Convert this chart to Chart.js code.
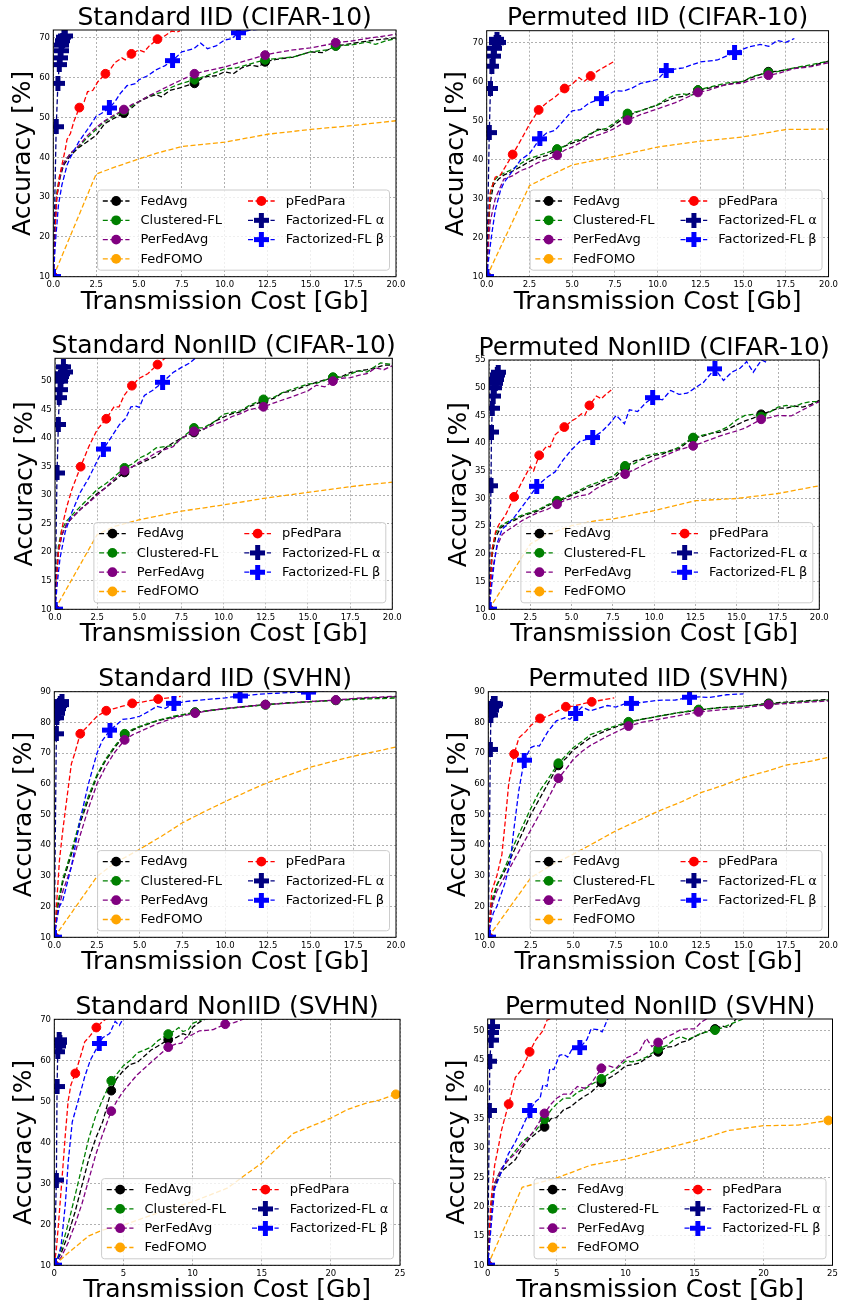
<!DOCTYPE html>
<html>
<head>
<meta charset="utf-8">
<script src="https://cdn.jsdelivr.net/npm/chart.js"></script>
<style>
  body { margin: 0; background: #fff; }
  #wrap { position: relative; width: 841px; height: 1309px; overflow: hidden; }
  #wrap canvas { position: absolute; }
</style>
</head>
<body>
<div id="wrap"></div>
<script>
const seriesNames = ['FedAvg', 'Clustered-FL', 'PerFedAvg', 'FedFOMO', 'pFedPara', 'Factorized-FL α', 'Factorized-FL β'];
const seriesColors = ['#000000', '#008000', '#800080', '#ffa500', '#ff0000', '#000080', '#0000ff'];

const titles = [
  'Standard IID (CIFAR-10)', 'Permuted IID (CIFAR-10)',
  'Standard NonIID (CIFAR-10)', 'Permuted NonIID (CIFAR-10)',
  'Standard IID (SVHN)', 'Permuted IID (SVHN)',
  'Standard NonIID (SVHN)', 'Permuted NonIID (SVHN)'
];

const xTicks20 = [0, 2.5, 5, 7.5, 10, 12.5, 15, 17.5, 20];
const xTicks25 = [0, 5, 10, 15, 20, 25];
const yTicks70 = [10, 20, 30, 40, 50, 60, 70];
const yTicks50 = [10, 15, 20, 25, 30, 35, 40, 45, 50];
const yTicks55 = [10, 15, 20, 25, 30, 35, 40, 45, 50, 55];
const yTicks90 = [10, 20, 30, 40, 50, 60, 70, 80, 90];
const xMaxes = [20, 20, 20, 20, 20, 20, 25, 25];
const yMaxes = [72, 73, 54, 55, 90, 90, 70, 52];

// where the markers sit (Gb)
const baseMarkX = [0, 4.12, 8.24, 12.36, 16.48];
const paraMarkX = [0, 1.52, 3.04, 4.56, 6.08];
const fomoMarkX = [0];
const fomoMarkXWide = [0, 24.7];
const betaMarkX = [
  [0, 3.27, 6.96, 10.8], [0, 3.11, 6.71, 10.5, 14.5],
  [0, 2.87, 6.38], [0, 2.89, 6.28, 9.91, 13.68],
  [0, 3.26, 7, 10.87, 14.87], [0, 2.11, 5.14, 8.41, 11.83],
  [0, 3.25], [0, 3.06, 6.68]
];

// ---- Standard IID (CIFAR-10)
const p1FedAvg = [[0,10],[0.1,22],[0.2,30],[0.4,35],[0.6,38],[1,40.5],[1.5,42.5],[2,44],[2.5,45.5],[3,48.5],[3.5,49.7],[4.12,51.1],[4.6,52.5],[5,54],[5.6,55.2],[6,55.8],[6.3,55.2],[6.8,56.8],[7.5,57.6],[8.24,58.6],[8.8,60.2],[9.5,60.5],[10,61.5],[10.5,61],[11,62.5],[11.5,63.2],[12,62.8],[12.36,64],[13,64.6],[14,65.2],[15,66.5],[15.7,66.3],[16.48,68],[17,68.3],[18,69],[19,69.6],[20,70]];
const p1Cluster = [[0,10],[0.1,24],[0.2,31],[0.4,36],[0.6,38.5],[1,41],[1.5,42.8],[2,45],[2.5,47],[3,49],[3.5,50.2],[4.12,51.8],[4.6,53],[5,54],[5.6,55.5],[6.3,56.3],[7,57.8],[7.5,58.6],[8.24,59.5],[9,60.6],[10,62.2],[10.7,62.5],[11.5,63.5],[12.36,64.5],[13,64.8],[14,65.2],[15,66.5],[16,67],[16.48,68],[17.5,68.3],[18.3,69],[18.8,68.4],[19.5,69.4],[20,69.8]];
const p1PerFed = [[0,10],[0.1,22],[0.2,30],[0.4,35.5],[0.6,38.5],[1,41],[1.5,43],[2,45.5],[2.5,47.5],[3,49.2],[3.5,50.5],[4.12,52],[4.6,53.3],[5,54],[5.6,55.5],[6.3,57],[7,58.5],[7.5,59.5],[8.24,61],[9,61.8],[10,62.7],[11,64],[12.36,65.7],[13,66.3],[14,67],[15,67.5],[16,68.3],[16.48,68.8],[17.5,69.3],[18.5,70],[19.5,70.6],[20,71]];
const p1Fomo = [[0,10],[2.5,35.8],[3.5,37.4],[5,39.6],[6,41],[7.5,42.7],[10,43.8],[12.5,45.8],[15,47],[17.5,48],[20,49.2]];
const p1Para = [[0,10],[0.1,22],[0.2,30],[0.35,35],[0.5,38],[0.7,42],[0.8,44.5],[1,46],[1.2,49],[1.52,52.5],[1.8,54],[2,56.5],[2.3,56.8],[2.6,59],[3.04,61],[3.3,62],[3.6,63.8],[4,65],[4.2,64.5],[4.56,66],[5,67],[5.3,66.5],[5.6,68],[6.08,69.7],[6.5,70.5],[6.9,71.7],[7.2,71.5],[7.4,71.8]];
const p1Alpha = [[0,10],[0.17,47.7],[0.27,58.6],[0.35,63.3],[0.4,65],[0.45,66.8],[0.5,68.2],[0.55,69.3],[0.62,70.2],[0.7,70.5]];
const p1Beta = [[0,10],[0.15,20],[0.3,28],[0.5,33],[0.8,38],[1,40],[1.5,44],[2,47],[2.5,50.3],[2.8,51],[3.27,52.4],[3.6,54],[3.9,56],[4.3,58],[4.8,58.5],[5,59.5],[5.5,60.5],[6,62],[6.5,63],[6.96,64.3],[7.5,66.5],[8.2,67.3],[8.6,68.7],[9,67.3],[9.5,68],[10,69.5],[10.4,69.8],[10.8,71.3],[11.5,72],[12.5,72.3],[13,72.5]];

// ---- Permuted IID (CIFAR-10)
const p2FedAvg = [[0,10],[0.1,22],[0.2,29],[0.4,33.5],[0.7,35],[1,36],[1.5,37],[2,38.2],[2.5,39.5],[3,40.5],[3.5,41],[4.12,42.5],[4.6,43.5],[5,44.2],[5.5,45],[6,46.2],[6.5,47.8],[7,47.5],[7.5,49],[8.24,51.2],[9,52.5],[10,54],[10.5,55],[11,55.8],[11.5,56.2],[12.36,57.8],[13,58.3],[14,59.2],[15,60],[15.5,61],[16.48,62.5],[17,62.6],[18,63.4],[19,64],[20,65.2]];
const p2Cluster = [[0,10],[0.1,24],[0.2,31],[0.4,34.5],[0.7,35.8],[1,36.5],[1.5,37.5],[2,39],[2.5,40.3],[3,41],[3.5,41.7],[4.12,42.7],[4.6,43.5],[5,44.8],[5.5,45.2],[6,46.5],[6.5,47.5],[7,48],[7.5,49.5],[8.24,51.8],[9,52.5],[10,54],[10.5,55.5],[11,56.5],[11.5,56.8],[12,56.5],[12.36,57.8],[13,58.5],[14,59.6],[15,60],[15.5,61.2],[16.48,62.3],[17,62.5],[18,63.5],[19,64.3],[20,65.2]];
const p2PerFed = [[0,10],[0.1,18],[0.2,24],[0.5,30],[0.8,33],[1,35],[1.5,35.8],[2,37.2],[2.5,38],[3,39.2],[3.5,40],[4.12,41.1],[4.6,42.5],[5,43.2],[6,45.5],[7,47],[7.5,48],[8.24,50.1],[9,51.5],[10,53],[11,54.5],[12.36,57.2],[13,57.8],[14,59.2],[15,59.6],[15.5,60.5],[16.48,61.6],[17,62],[18,63.3],[19,63.8],[20,64.8]];
const p2Fomo = [[0,10],[2.5,33.3],[3.5,35.5],[5,38.6],[7.5,40.8],[10,43.2],[12.5,44.7],[15,45.8],[17.5,47.7],[20,47.8]];
const p2Para = [[0,10],[0.1,24],[0.2,31.5],[0.5,35.5],[0.8,36],[1,37.5],[1.52,41.3],[2,45],[2.5,49],[3.04,52.7],[3.5,54.5],[4,56],[4.56,58.2],[5,59.3],[5.4,61],[5.7,60],[6.08,61.4],[6.5,62.7],[7,64],[7.4,65]];
const p2Alpha = [[0,10],[0.15,46.9],[0.22,58.2],[0.3,63.9],[0.38,66.5],[0.45,68.5],[0.55,69.9],[0.6,70.8],[0.7,70]];
const p2Beta = [[0,10],[0.15,16],[0.3,21],[0.5,27],[0.8,32],[1,34],[1.5,37],[2,40],[2.5,41.5],[3.11,45.3],[3.5,46.8],[4,47.5],[4.5,50],[5,52.5],[5.5,52.8],[6,54.5],[6.71,55.6],[7.5,57.6],[8,57.5],[8.5,58.3],[9,59.5],[10,60.5],[10.5,62.8],[11.5,63.5],[12.5,65],[13.5,65.5],[14.5,67.4],[15.3,68.8],[16,69.5],[16.5,69],[17,70.5],[17.5,70],[18,71]];

// ---- Standard NonIID (CIFAR-10)
const p3FedAvg = [[0,10],[0.1,16],[0.2,20],[0.4,23],[0.7,25],[1,26],[1.5,27.5],[2,28.8],[2.5,30.3],[3,31.3],[3.5,32.5],[4.12,34],[4.6,35],[5,35.5],[5.5,36.2],[6,36.8],[6.5,38.2],[7,39.2],[7.5,40],[8.24,41],[8.8,41.5],[9.5,43],[10,43.7],[10.5,44.3],[11,44.6],[11.5,45.5],[12.36,46.5],[13,47],[13.5,48],[14,48.2],[15,49.3],[15.5,49.8],[16.48,50.6],[17,50.8],[17.5,51.5],[18,51.8],[18.5,52],[19,52.3],[19.5,52.8],[20,52.8]];
const p3Cluster = [[0,10],[0.1,17],[0.2,21],[0.4,24],[0.7,25.5],[1,26.5],[1.5,28],[2,29.5],[2.5,31],[3,32],[3.5,33.2],[4.12,34.8],[4.6,35.5],[5,36.5],[5.5,37.2],[6,38.3],[6.5,38.5],[7,38.7],[7.5,40],[8.24,41.8],[8.8,41.8],[9.5,43],[10,44.2],[10.5,44.5],[11,44.8],[11.5,45.7],[12.36,46.8],[13,47.2],[13.5,48],[14,48.5],[15,49.5],[15.5,49.6],[16.48,50.7],[17,50.7],[17.5,51.2],[18,51.8],[18.5,51.6],[19.3,53.2],[20,52.9]];
const p3PerFed = [[0,10],[0.1,16],[0.2,20],[0.4,23],[0.7,25],[1,26],[1.5,27.5],[2,28.7],[2.5,30],[3,31.3],[3.5,32.8],[4.12,34.3],[4.6,35],[5,35.8],[5.5,36.5],[6,37.5],[6.5,38],[7,38.5],[7.5,40],[8.24,41.2],[9,41.8],[9.5,42.5],[10,43],[10.5,43.8],[11,44.3],[11.5,45],[12.36,45.5],[13,46.2],[14,47.2],[15,48.3],[15.5,49.3],[16,49],[16.48,50],[17,50.5],[17.5,50.6],[18,51],[18.5,51.3],[19,52.3],[19.5,52],[20,52.7]];
const p3Fomo = [[0,10],[2.5,23.1],[3.5,24.5],[5,25.7],[7.5,27.2],[10,28.3],[12.5,29.5],[15,30.5],[17.5,31.5],[20,32.3]];
const p3Para = [[0,10],[0.1,16],[0.2,20],[0.35,23],[0.5,25.5],[0.7,28],[1,31],[1.52,35],[2,38.5],[2.5,41.5],[3.04,43.4],[3.5,45.5],[3.8,45.5],[4.1,47.5],[4.56,49.2],[5,50.5],[5.5,51.3],[6.08,52.9],[6.6,54.2],[7.4,55.5]];
const p3Alpha = [[0,10],[0.12,33.9],[0.2,42.4],[0.25,47.1],[0.3,48.5],[0.35,50],[0.4,50.8],[0.45,51.3],[0.5,52.5],[0.6,51.6]];
const p3Beta = [[0,10],[0.15,15],[0.3,19],[0.6,23.5],[1,27],[1.5,30.5],[2,33],[2.5,36],[2.87,38.1],[3.3,40],[3.8,42.3],[4.2,43.5],[4.5,45.5],[4.8,45.6],[5,45.4],[5.3,47.5],[5.8,48.4],[6.38,49.8],[7,51.5],[7.5,52.4],[8,53.2],[8.5,54.5],[9,55.5]];

// ---- Permuted NonIID (CIFAR-10)
const p4FedAvg = [[0,10],[0.1,16],[0.2,20],[0.4,23],[0.7,24.7],[1,25.3],[1.5,26],[2,26.8],[2.5,27.3],[3,27.8],[3.5,28.6],[4.12,29.5],[4.6,30],[5,30.6],[5.5,31.2],[6,32],[6.5,32.4],[7,33.2],[7.5,33.5],[8.24,35.6],[8.8,36.8],[9.5,37.2],[10,37.8],[10.5,38],[11,38.7],[11.5,39],[12.36,40.9],[13,41.3],[13.5,41.8],[14,42],[14.5,42.6],[15,43.3],[15.5,44],[16,44.5],[16.48,45.2],[17,45.7],[17.5,46.3],[18,46.3],[18.5,46.7],[19,46.5],[19.5,47],[20,47.7]];
const p4Cluster = [[0,10],[0.1,17],[0.2,21],[0.4,23.7],[0.7,25],[1,25.6],[1.5,26.3],[2,27],[2.5,27.5],[3,28],[3.5,28.8],[4.12,29.6],[4.6,30.2],[5,30.8],[5.5,31.5],[6,32.3],[6.5,32.8],[7,33.5],[7.5,34],[8.24,35.9],[8.8,36.3],[9.5,37.7],[10,38],[10.5,38.3],[11,38.5],[11.5,39.3],[12.36,41],[13,41.5],[13.5,41.8],[14,42.3],[14.5,43],[15,44.2],[15.5,45],[16,45.2],[16.48,44.8],[17,45.6],[17.5,46.5],[18,46.8],[18.5,46.6],[19,47.2],[19.5,47.5],[20,47.5]];
const p4PerFed = [[0,10],[0.1,14],[0.2,17],[0.5,21.5],[0.8,23.5],[1,24],[1.5,25],[2,26],[2.5,26.8],[3,27.5],[3.5,28],[4.12,28.95],[4.6,29.7],[5,30],[5.5,30.5],[6,30.7],[6.5,31.8],[7,32.5],[7.5,33.2],[8.24,34.4],[9,35.5],[10,37],[10.5,37.5],[11,38.2],[11.5,38.8],[12.36,39.5],[13,40.2],[14,41.3],[15,42.2],[15.5,42.7],[16.48,44.3],[17,44.6],[17.5,45],[18.3,44.9],[19,46],[20,47.5]];
const p4Fomo = [[0,10],[2.5,21.8],[3.5,23.5],[5,25.1],[6.5,26],[7.5,26.3],[10,27.8],[12.5,29.6],[15,30],[17.5,30.9],[20,32.3]];
const p4Para = [[0,10],[0.1,16],[0.2,21],[0.4,24],[0.6,25.3],[1,27],[1.52,30.3],[2,33],[2.5,35.8],[2.7,35],[3.04,37.8],[3.5,39.5],[3.7,39.3],[4,41.5],[4.56,42.9],[5,44],[5.3,44.5],[5.6,45.3],[5.8,45],[6.08,46.8],[6.5,48.5],[6.8,48],[7,48.6],[7.4,49.6]];
const p4Alpha = [[0,10],[0.12,32.3],[0.15,42],[0.2,46.3],[0.25,48.5],[0.32,50],[0.38,50.8],[0.44,51.5],[0.5,52.3],[0.56,52.8]];
const p4Beta = [[0,10],[0.15,14],[0.3,18],[0.5,22],[0.8,24.5],[1,25],[1.5,26.5],[2,28.5],[2.5,30.5],[2.89,32.2],[3.5,33.8],[4,34.8],[4.5,37],[5,38.8],[5.5,40.3],[6.28,41],[6.8,42],[7.3,43.5],[7.7,45],[8.2,43.5],[8.5,46],[9,45.7],[9.5,47.3],[9.91,48.2],[10.5,47.8],[11,49.5],[11.5,48.8],[12,49],[12.5,50],[13,51],[13.68,53.4],[14.2,51.3],[14.7,52.8],[15.2,53.5],[15.6,54.7],[16,52.8],[16.5,55],[16.8,54.6]];

// ---- Standard IID (SVHN)
const p5FedAvg = [[0,10],[0.1,15],[0.2,20],[0.5,28],[1,37],[1.5,47],[2,55],[2.5,62.5],[3,67.5],[3.5,71.5],[4.12,76],[4.6,77.5],[5,78.5],[6,80.5],[7,81.8],[8.24,83.3],[9,83.8],[10,84.5],[11,85.1],[12.36,85.8],[13.5,86.3],[15,86.8],[16.48,87.2],[18,87.8],[20,88.3]];
const p5Cluster = [[0,10],[0.1,16],[0.2,21],[0.5,29],[1,38],[1.5,48],[2,56],[2.5,63],[3,68],[3.5,72],[4.12,76.3],[4.6,77.8],[5,78.7],[6,80.6],[7,82],[8.24,83.3],[9,83.8],[10,84.4],[11,85],[12.36,85.7],[13.5,86.2],[15,86.7],[16.48,87.2],[18,87.6],[20,87.9]];
const p5PerFed = [[0,10],[0.1,14],[0.2,18],[0.5,25],[1,33],[1.5,43],[2,52],[2.5,60],[3,65.5],[3.5,70],[4.12,74.3],[4.6,76],[5,77],[6,79.5],[7,81.5],[8.24,83],[9,83.8],[10,84.5],[11,85.1],[12.36,85.8],[13.5,86.2],[15,86.8],[16.48,87.3],[18,88],[20,88.5]];
const p5Fomo = [[0,10],[2.5,29.8],[3.5,34],[5,38.7],[6.3,43],[7.5,47.3],[8.8,51],[10,54.2],[11.3,57.5],[12.5,60.4],[13.8,63],[15,65.4],[16.3,67.3],[17.5,69],[18.8,70.5],[20,72]];
const p5Para = [[0,10],[0.1,18],[0.3,35],[0.5,45],[0.8,58],[1,66.5],[1.2,70],[1.52,76.3],[2,79],[2.5,82],[3.04,83.8],[3.5,84.5],[4,85.3],[4.56,86.2],[5,86.5],[5.5,87],[6.08,87.6],[6.7,88],[7.4,88.5]];
const p5Alpha = [[0,10],[0.12,76.3],[0.15,81.5],[0.2,83],[0.25,84.5],[0.3,85.5],[0.35,86.3],[0.4,85.8],[0.45,86.8]];
const p5Beta = [[0,10],[0.15,16],[0.3,20],[0.5,22],[1,33],[1.5,48],[2,60],[2.5,70],[2.8,74],[3.26,77.5],[3.6,79],[4,81],[4.5,81.3],[5,82],[5.5,83.5],[6,85.2],[6.5,84.6],[7,86.2],[8,87],[9,87.5],[10,88],[10.87,88.6],[12,89.2],[13,89.5],[14,89.8],[14.87,89.9],[16,90.2]];

// ---- Permuted IID (SVHN)
const p6FedAvg = [[0,10],[0.1,16],[0.2,20],[0.5,27],[1,32],[1.5,38],[2,44],[2.5,50],[3,55],[3.5,60],[4.12,66],[4.6,68.5],[5,71],[5.5,73],[6,75],[7,77.5],[8.24,80],[9,81],[10,82],[11,83],[12.36,84],[13.5,84.8],[15,85.3],[16.48,86.2],[18,86.8],[20,87.5]];
const p6Cluster = [[0,10],[0.1,17],[0.2,22],[0.5,27],[1,33],[1.5,40],[2,46],[2.5,52],[3,57.5],[3.5,61.5],[4.12,66.7],[4.6,69.5],[5,71.8],[5.5,73.8],[6,76],[7,78],[8.24,80.2],[9,81],[10,82],[11,83],[12.36,84.2],[13.5,84.7],[15,85.3],[16.48,86],[18,86.6],[20,87.3]];
const p6PerFed = [[0,10],[0.1,15],[0.2,20],[0.5,25],[1,30],[1.5,35],[2,40],[2.5,45],[3,50],[3.5,55],[4.12,61.8],[4.6,65],[5,68],[5.5,70.5],[6,72.5],[7,75.5],[8.24,78.8],[9,80],[10,81],[11,82],[12.36,83.4],[13.5,84],[15,84.8],[16.48,85.8],[18,86.3],[20,87]];
const p6Fomo = [[0,10],[2.5,29.4],[3.7,33.5],[5,37.1],[6.3,41],[7.5,44.7],[8.8,48],[10,51.1],[11.3,54],[12.5,57.1],[13.8,59.5],[15,62],[16.3,64],[17.5,66.1],[18.8,67.2],[20,68.6]];
const p6Para = [[0,10],[0.1,17],[0.2,25],[0.5,30],[0.8,37],[1,48],[1.2,60],[1.52,69.7],[1.8,75],[2.2,77],[2.5,79],[3.04,81.3],[3.5,82],[4,83.5],[4.56,85.1],[5,85.3],[5.5,86],[6.08,86.7],[6.7,87.3],[7.4,88]];
const p6Alpha = [[0,10],[0.12,71.2],[0.15,82.4],[0.2,84],[0.25,85.3],[0.3,86.2],[0.35,85.5],[0.4,86]];
const p6Beta = [[0,10],[0.15,15],[0.3,18],[0.5,20],[1,28],[1.3,35],[1.5,45],[1.8,58],[2.11,67.7],[2.5,71.8],[2.8,72.5],[3,72.3],[3.5,77],[4,80.5],[4.5,81.5],[4.8,81],[5.14,82.9],[5.5,85],[6,83.8],[6.5,84.6],[7,85.5],[7.5,85],[8,86],[8.41,86.2],[9,86.5],[10,87.2],[11,87.3],[11.83,88.2],[12.5,88.3],[13,88.1],[14,89],[15,89.3]];

// ---- Standard NonIID (SVHN)
const p7FedAvg = [[0,10],[0.5,13],[1,17.5],[1.5,23],[2,29.5],[2.5,36],[3,41],[3.5,45],[4.12,52.6],[4.5,55.5],[5,57.5],[5.5,59],[6,59.5],[6.5,61],[7,62.5],[7.5,63.5],[8.24,65],[8.8,65.5],[9.3,66.5],[9.7,66],[10,68],[10.5,69.3],[11,70.2]];
const p7Cluster = [[0,10],[0.5,14],[1,20],[1.5,27],[2,34],[2.5,41],[3,46.5],[3.5,50.5],[4.12,55],[4.6,57],[5,58.7],[5.5,60],[6,61.8],[6.5,62.5],[7,63.2],[7.5,64.8],[8.24,66.4],[8.7,67.2],[9,68],[9.3,67],[9.7,67.5],[10,69],[10.5,69.7],[11,70.4]];
const p7PerFed = [[0,10],[0.5,12],[1,15.5],[1.5,20],[2,25],[2.5,31],[3,37],[3.5,42],[4.12,47.6],[4.6,50.5],[5,52.5],[5.5,54.5],[6,56.5],[6.5,58],[7,59.5],[7.5,61],[8.24,63.2],[8.8,64],[9.2,64.2],[9.5,65.5],[10,66.3],[10.5,67.2],[11,67.3],[11.5,67.5],[12.36,68.8],[13,69.2],[13.8,70.2]];
const p7Fomo = [[0,10],[1,13],[2.5,17.2],[3.5,18.6],[5,19.8],[7.5,22.8],[10,25.5],[12.5,28.8],[14,32.5],[15,34.9],[16,38.2],[17.3,42.2],[18.5,43.8],[20,45.9],[21.2,48],[22.5,49.5],[23.5,50.3],[24.7,51.7]];
const p7Para = [[0,10],[0.15,14],[0.3,20],[0.6,33],[0.8,42],[1,50],[1.2,54],[1.52,56.8],[1.9,61],[2.2,64.5],[2.6,66],[3.04,68],[3.5,69.5],[3.8,70.2]];
const p7Alpha = [[0,10],[0.15,30.8],[0.2,53.6],[0.25,62.1],[0.3,63.5],[0.35,65],[0.4,64.4]];
const p7Beta = [[0,10],[0.3,12],[0.5,15],[0.8,25],[1,35],[1.3,45],[1.8,51],[2.2,56],[2.6,60],[3.25,64.1],[3.5,65.5],[4,66.5],[4.4,69.5],[4.7,68.5],[5,70.3]];

// ---- Permuted NonIID (SVHN)
const p8FedAvg = [[0,10],[0.2,17],[0.3,20],[0.5,23.5],[1,26],[1.5,27],[2,28],[2.5,30],[3,31.5],[3.5,32.5],[4.12,33.6],[4.6,35],[5,35.2],[5.5,36.5],[6,37],[6.5,38],[7,38.8],[7.5,39.5],[8.24,41.2],[9,42.2],[9.5,43],[10,44],[10.5,44.2],[11,44.5],[11.5,45.3],[12.36,46.4],[13,47.2],[13.5,47.3],[14,48],[14.5,48.3],[15,49],[15.5,49.5],[16,50],[16.48,50.3],[17,50.8],[17.5,50.5],[18,52],[18.5,52.5]];
const p8Cluster = [[0,10],[0.2,18],[0.3,21],[0.5,24],[1,26.5],[1.5,28],[2,29.5],[2.5,31],[3,32],[3.5,33],[4.12,34.9],[4.6,36.5],[5,37.5],[5.5,38.5],[6,38.5],[6.5,39.5],[7,40],[7.5,40.8],[8.24,41.8],[9,43],[9.5,43.8],[10,44.8],[10.5,44.7],[11,45],[11.5,45.5],[12.36,46.9],[13,47.5],[13.5,48.5],[14,49],[14.5,48.5],[15,49],[15.5,49.6],[16.48,50.1],[17,50.5],[17.5,51],[18,51.5],[18.5,52],[19,52.5]];
const p8PerFed = [[0,10],[0.2,17],[0.3,20],[0.5,24],[1,26.5],[1.5,28],[2,29],[2.5,30.5],[3,31.8],[3.5,33.5],[4.12,35.9],[4.6,37.5],[5,38.5],[5.5,39.2],[6,39.2],[6.5,40.5],[7,40.2],[7.5,41],[8.24,43.6],[8.8,44],[9.3,43.6],[10,45.3],[10.5,45.8],[11,46.5],[11.5,48.7],[11.9,47.3],[12.36,48],[13,49],[13.5,49.5],[14,50.2],[14.5,50.3],[15,50.3],[15.5,51.5],[16,52.2]];
const p8Fomo = [[0,10],[2.5,23.3],[5,24.9],[7.5,27.1],[10,28.1],[12.5,29.7],[15,31.2],[17.5,33],[20,33.8],[22.5,33.9],[24.7,34.7]];
const p8Para = [[0,10],[0.1,15],[0.2,20],[0.5,27],[0.8,30.5],[1,33],[1.2,34.8],[1.52,37.5],[1.8,40],[2,42],[2.5,43.5],[3.04,46.4],[3.5,48.5],[4,50],[4.3,51.8],[4.5,52],[5,52.3]];
const p8Alpha = [[0,10],[0.12,36.4],[0.15,44.8],[0.25,48.4],[0.3,49.7],[0.35,50.7]];
const p8Beta = [[0,10],[0.15,14],[0.3,18],[0.5,23],[1,26],[1.5,29],[2,31],[2.5,33.5],[3.06,36.4],[3.5,38],[3.8,38.5],[4,40.8],[4.3,40.5],[4.5,43.5],[4.8,43.4],[5.2,45.8],[5.5,46],[5.8,45.5],[6.1,46.8],[6.68,47.1],[7.2,48.5],[7.5,50.3],[8,50.2],[8.3,49.8],[8.7,52],[9,52.5]];

// page layout: canvas box and plot rectangle (left, top, right, bottom) in page px
const canvasBoxes = [
  [0, 0, 420, 320], [420, 0, 421, 320],
  [0, 320, 420, 330], [420, 320, 421, 330],
  [0, 650, 420, 330], [420, 650, 421, 330],
  [0, 980, 420, 329], [420, 980, 421, 329]
];
const plotRects = [
  [53.3, 30, 396, 276.7], [486.7, 30.7, 829.3, 276.7],
  [55, 358.3, 392.3, 609.3], [489, 360, 819.3, 609.3],
  [54.3, 691.7, 396, 937.3], [488.3, 691.7, 829.3, 937.3],
  [54.3, 1019.3, 400, 1265.3], [487.7, 1019, 833.3, 1265.3]
];

const panelLines = [
  [p1FedAvg, p1Cluster, p1PerFed, p1Fomo, p1Para, p1Alpha, p1Beta],
  [p2FedAvg, p2Cluster, p2PerFed, p2Fomo, p2Para, p2Alpha, p2Beta],
  [p3FedAvg, p3Cluster, p3PerFed, p3Fomo, p3Para, p3Alpha, p3Beta],
  [p4FedAvg, p4Cluster, p4PerFed, p4Fomo, p4Para, p4Alpha, p4Beta],
  [p5FedAvg, p5Cluster, p5PerFed, p5Fomo, p5Para, p5Alpha, p5Beta],
  [p6FedAvg, p6Cluster, p6PerFed, p6Fomo, p6Para, p6Alpha, p6Beta],
  [p7FedAvg, p7Cluster, p7PerFed, p7Fomo, p7Para, p7Alpha, p7Beta],
  [p8FedAvg, p8Cluster, p8PerFed, p8Fomo, p8Para, p8Alpha, p8Beta]
];
const panelYTicks = [yTicks70, yTicks70, yTicks50, yTicks55, yTicks90, yTicks90, yTicks70, yTicks50];

const FONT = '"DejaVu Sans", sans-serif';

function plusMarker(color) {
  const c = document.createElement('canvas');
  c.width = 15; c.height = 15;
  const g = c.getContext('2d');
  g.fillStyle = color;
  g.fillRect(5, 0, 5, 15);
  g.fillRect(0, 5, 15, 5);
  return c;
}
const plusImgs = { 5: plusMarker(seriesColors[5]), 6: plusMarker(seriesColors[6]) };

function drawLegend(ctx, a) {
  ctx.font = '13px ' + FONT;
  const col1 = seriesNames.slice(0, 4), col2 = seriesNames.slice(4);
  const w1 = Math.max(...col1.map(t => ctx.measureText(t).width));
  const w2 = Math.max(...col2.map(t => ctx.measureText(t).width));
  const pad = 5.2, hl = 26.7, htp = 11, cs = 26, rowH = 19.3;
  const W = pad + hl + htp + w1 + cs + hl + htp + w2 + pad;
  const H = 80.2;
  const x0 = a.right - 6.5 - W, y0 = a.bottom - 6.5 - H;

  ctx.beginPath();
  if (ctx.roundRect) ctx.roundRect(x0, y0, W, H, 3); else ctx.rect(x0, y0, W, H);
  ctx.fillStyle = 'rgba(255,255,255,0.8)';
  ctx.fill();
  ctx.strokeStyle = '#cccccc';
  ctx.lineWidth = 1;
  ctx.stroke();

  seriesNames.forEach((name, i) => {
    const col = i < 4 ? 0 : 1;
    const row = i < 4 ? i : i - 4;
    const hx = x0 + pad + (col ? hl + htp + w1 + cs : 0);
    const cy = y0 + 11 + row * rowH;
    ctx.strokeStyle = seriesColors[i];
    ctx.lineWidth = 1.3;
    ctx.setLineDash([5, 2.5]);
    ctx.beginPath();
    ctx.moveTo(hx, cy);
    ctx.lineTo(hx + hl, cy);
    ctx.stroke();
    ctx.setLineDash([]);
    const mx = hx + hl / 2;
    if (plusImgs[i]) {
      ctx.drawImage(plusImgs[i], mx - 7.5, cy - 7.5);
    } else {
      ctx.beginPath();
      ctx.arc(mx, cy, 4.9, 0, Math.PI * 2);
      ctx.fillStyle = seriesColors[i];
      ctx.fill();
    }
    ctx.fillStyle = '#000';
    ctx.textAlign = 'left';
    ctx.textBaseline = 'middle';
    ctx.fillText(name, hx + hl + htp, cy + 0.5);
  });
}

const decor = {
  id: 'decor',
  afterDatasetsDraw(chart) {
    const { ctx, chartArea: a } = chart;
    ctx.save();
    ctx.strokeStyle = '#000';
    ctx.lineWidth = 1;
    ctx.strokeRect(a.left, a.top, a.right - a.left, a.bottom - a.top);
    ctx.restore();
  },
  afterDraw(chart, args, opts) {
    const { ctx, chartArea: a } = chart;
    ctx.save();
    ctx.font = '25px ' + FONT;
    ctx.fillStyle = '#000';
    ctx.textAlign = 'center';
    ctx.textBaseline = 'alphabetic';
    ctx.fillText(opts.title, (a.left + a.right) / 2, a.top - 5.5);
    drawLegend(ctx, a);
    ctx.restore();
  }
};

function buildDatasets(p) {
  const lines = panelLines[p];
  const marks = [baseMarkX, baseMarkX, baseMarkX, p >= 6 ? fomoMarkXWide : fomoMarkX, paraMarkX, null, betaMarkX[p]];
  const ds = [];
  lines.forEach((line, i) => {
    ds.push({
      data: line.map(q => ({ x: q[0], y: q[1] })),
      borderColor: seriesColors[i],
      borderWidth: 1.3,
      borderDash: [5, 2.5],
      pointRadius: 0,
      fill: false,
      clip: 0,
      order: 100 - 2 * i
    });
    const pts = marks[i] ? line.filter(q => marks[i].includes(q[0])) : line;
    ds.push({
      data: pts.map(q => ({ x: q[0], y: q[1] })),
      showLine: false,
      pointStyle: plusImgs[i] || 'circle',
      pointRadius: plusImgs[i] ? 7.5 : 4.4,
      backgroundColor: seriesColors[i],
      borderColor: seriesColors[i],
      borderWidth: 1,
      clip: 0,
      order: 99 - 2 * i
    });
  });
  return ds;
}

const wrap = document.getElementById('wrap');
titles.forEach((title, p) => {
  const [cx, cy, cw, ch] = canvasBoxes[p];
  const [L, T, R, B] = plotRects[p];
  const l = L - cx, t = T - cy, r = R - cx, b = B - cy;
  const canvas = document.createElement('canvas');
  canvas.width = cw; canvas.height = ch;
  canvas.style.left = cx + 'px'; canvas.style.top = cy + 'px';
  canvas.style.width = cw + 'px'; canvas.style.height = ch + 'px';
  wrap.appendChild(canvas);

  const xt = xMaxes[p] === 25 ? xTicks25 : xTicks20;
  const yt = panelYTicks[p];
  const tickFont = { family: FONT, size: 8.5 };
  const titleFont = { family: FONT, size: 25, lineHeight: 1.2 };
  const gridOpts = { color: '#b0b0b0', lineWidth: 1, drawTicks: false };

  new Chart(canvas, {
    type: 'line',
    data: { datasets: buildDatasets(p) },
    options: {
      responsive: false,
      animation: false,
      devicePixelRatio: 1,
      layout: { padding: { left: 0, top: t, right: cw - r, bottom: 0 } },
      plugins: {
        legend: { display: false },
        tooltip: { enabled: false },
        decor: { title: title }
      },
      scales: {
        x: {
          type: 'linear',
          min: 0,
          max: xMaxes[p],
          afterFit: s => { s.height = ch - b; },
          afterBuildTicks: s => { s.ticks = xt.map(v => ({ value: v })); },
          ticks: {
            autoSkip: false, maxRotation: 0, padding: 3, color: '#000', font: tickFont,
            callback: v => xMaxes[p] === 25 ? String(v) : v.toFixed(1)
          },
          grid: gridOpts,
          border: { display: false, dash: [2, 2] },
          title: {
            display: true, text: 'Transmission Cost [Gb]', color: '#000', font: titleFont,
            padding: { top: 0, bottom: Math.max(0, ch - b - 25.5 - 15) }
          }
        },
        y: {
          type: 'linear',
          min: 10,
          max: yMaxes[p],
          afterFit: s => { s.width = l; },
          afterBuildTicks: s => { s.ticks = yt.map(v => ({ value: v })); },
          ticks: { autoSkip: false, padding: 3.3, color: '#000', font: tickFont },
          grid: gridOpts,
          border: { display: false, dash: [2, 2] },
          title: {
            display: true, text: 'Accuracy [%]', color: '#000', font: titleFont,
            padding: { top: Math.max(0, l - 30 - 15), bottom: 0 }
          }
        }
      }
    },
    plugins: [decor]
  });
});
</script>
</body>
</html>
